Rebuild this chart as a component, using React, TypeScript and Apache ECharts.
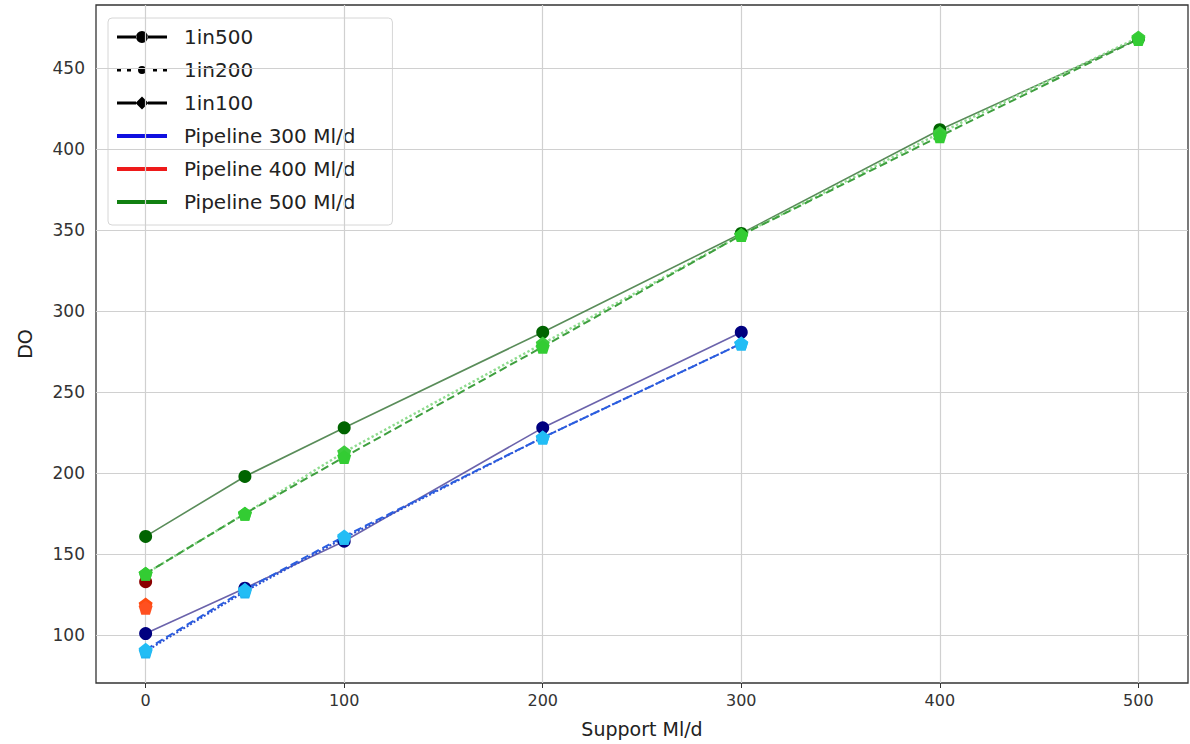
import React, { useEffect, useRef } from "react";
import * as echarts from "echarts";

// ---- data ----
const xTicks = [0, 100, 200, 300, 400, 500];
const yTicks = [100, 150, 200, 250, 300, 350, 400, 450];

const x300 = [0, 50, 100, 200, 300];
const p300_1in500 = [101, 129, 158, 228, 287];
const p300_1in200 = [90, 127, 160, 222, 280];
const p300_1in100 = [91, 128, 161, 222, 280];

const x400 = [0];
const p400_1in500 = [133];
const p400_1in200 = [119];
const p400_1in100 = [117];

const x500 = [0, 50, 100, 200, 300, 400, 500];
const p500_1in500 = [161, 198, 228, 287, 348, 412, 468];
const p500_1in200 = [138, 175, 213, 280, 347, 410, 469];
const p500_1in100 = [138, 175, 210, 278, 347, 408, 468];

const legendNames = ["1in500", "1in200", "1in100", "Pipeline 300 Ml/d", "Pipeline 400 Ml/d", "Pipeline 500 Ml/d"];
const legendColors = ["#000", "#000", "#000", "#1010e0", "#ee1a1a", "#118011"];

const FONT = "DejaVu Sans";
const PENT = "path://M0,-1L0.951,-0.309L0.588,0.809L-0.588,0.809L-0.951,-0.309Z";

// legend icon shapes (50 x 14 box)
const ICON_500 = "path://M0,5.5H19.5V8.5H0Z M30.5,5.5H50V8.5H30.5Z M19,7A6,6 0 1,0 31,7A6,6 0 1,0 19,7Z";
const ICON_200 = "path://M0,5.5H4V8.5H0Z M10,5.5H14V8.5H10Z M21,7A4,4 0 1,0 29,7A4,4 0 1,0 21,7Z M36,5.5H40V8.5H36Z M46,5.5H50V8.5H46Z M25,0.5L25,0.5Z M25,13.5L25,13.5Z";
const ICON_100 = "path://M0,5.5H19V8.5H0Z M31,5.5H50V8.5H31Z M25,0.5L31.5,7L25,13.5L18.5,7Z";
const ICON_PIPE = "path://M0,5H50V9H0Z";
const legendIcons = [ICON_500, ICON_200, ICON_100, ICON_PIPE, ICON_PIPE, ICON_PIPE];

function pairs(xs: number[], ys: number[]) {
  return xs.map((x, i) => [x, ys[i]]);
}

function mkSeries(
  name: string,
  xs: number[],
  ys: number[],
  lineColor: string,
  markerColor: string,
  lineType: string,
  symbol: string,
  size: number,
  width: number
) {
  return {
    name,
    type: "line",
    data: pairs(xs, ys),
    symbol,
    symbolSize: size,
    showAllSymbol: true,
    lineStyle: { color: lineColor, width, type: lineType },
    itemStyle: { color: markerColor, borderWidth: 0 },
    z: 5,
    silent: true,
  };
}

export default function App() {
  const ref = useRef<HTMLDivElement>(null);
  useEffect(() => {
    if (!ref.current) return;
    const chart = echarts.init(ref.current, undefined, { renderer: "svg" });
    const legendSeries = legendNames.map((n, i) => ({
      name: n,
      type: "line",
      data: [],
      symbol: "none",
      lineStyle: { color: legendColors[i] },
      itemStyle: { color: legendColors[i] },
    }));
    const gridSeries = {
      name: "grid",
      type: "line",
      data: [],
      silent: true,
      z: 1,
      markLine: {
        silent: true,
        symbol: "none",
        animation: false,
        label: { show: false },
        lineStyle: { color: "#d0d0d0", width: 1.2, type: "solid" },
        emphasis: { disabled: true },
        data: [...xTicks.map((v) => ({ xAxis: v })), ...yTicks.map((v) => ({ yAxis: v }))],
      },
    };
    const option: any = {
      animation: false,
      backgroundColor: "#fff",
      textStyle: { fontFamily: FONT },
      grid: {
        left: 96,
        right: 2,
        top: 5,
        bottom: 61,
        show: true,
        borderColor: "#333",
        borderWidth: 1.3,
        backgroundColor: "transparent",
      },
      legend: {
        data: legendNames.map((n, i) => ({ name: n, icon: legendIcons[i] })),
        orient: "vertical",
        left: 108,
        top: 18,
        itemWidth: 50,
        itemHeight: 14,
        itemGap: 13,
        symbolKeepAspect: true,
        padding: [9, 37, 13, 9],
        backgroundColor: "#fff",
        borderColor: "#d6d6d6",
        borderWidth: 1,
        borderRadius: 4,
        selectedMode: false,
        textStyle: { fontFamily: FONT, fontSize: 20, color: "#222", padding: [0, 0, 0, 12] },
      },
      xAxis: {
        type: "value",
        min: -25,
        max: 525,
        name: "Support Ml/d",
        nameLocation: "middle",
        nameGap: 36,
        nameTextStyle: { fontFamily: FONT, fontSize: 19, color: "#222" },
        axisLine: { show: false },
        splitLine: { show: false },
        axisTick: { show: true, length: 5, inside: false, customValues: xTicks, lineStyle: { color: "#333" } },
        axisLabel: { customValues: xTicks, fontFamily: FONT, fontSize: 16, color: "#333", margin: 9 },
      },
      yAxis: {
        type: "value",
        min: 70.5,
        max: 489,
        name: "DO",
        nameLocation: "middle",
        nameGap: 62,
        nameTextStyle: { fontFamily: FONT, fontSize: 19, color: "#222" },
        axisLine: { show: false },
        splitLine: { show: false },
        axisTick: { show: true, length: 5, inside: false, customValues: yTicks, lineStyle: { color: "#333" } },
        axisLabel: { customValues: yTicks, fontFamily: FONT, fontSize: 17, color: "#333", margin: 11 },
      },
      series: [
        gridSeries,
        ...legendSeries,
        mkSeries("p300 1in500", x300, p300_1in500, "rgba(70,60,150,0.8)", "#000080", "solid", "circle", 13, 1.6),
        mkSeries("p300 1in200", x300, p300_1in200, "#2d4fd0", "#20b4f0", "dotted", PENT, 14, 2),
        mkSeries("p300 1in100", x300, p300_1in100, "#2a5ee0", "#22bdf5", "dashed", PENT, 14, 2),
        mkSeries("p400 1in500", x400, p400_1in500, "#8b0000", "#8b0000", "solid", "circle", 13, 1.6),
        mkSeries("p400 1in200", x400, p400_1in200, "#ff4500", "#ff4a10", "dotted", PENT, 14, 2),
        mkSeries("p400 1in100", x400, p400_1in100, "#ff4500", "#ff5020", "dashed", PENT, 14, 2),
        mkSeries("p500 1in500", x500, p500_1in500, "rgba(60,120,60,0.85)", "#006400", "solid", "circle", 13, 1.6),
        mkSeries("p500 1in200", x500, p500_1in200, "#8fdc8f", "#3ccc3c", "dotted", PENT, 14, 2.4),
        mkSeries("p500 1in100", x500, p500_1in100, "#3f9f3f", "#33cc33", "dashed", PENT, 14, 2),
      ],
    };
    chart.setOption(option);
    return () => chart.dispose();
  }, []);
  return (
    <div
      ref={ref}
      style={{ position: "fixed", left: 0, top: 0, width: 1190, height: 744, background: "#fff" }}
    />
  );
}
